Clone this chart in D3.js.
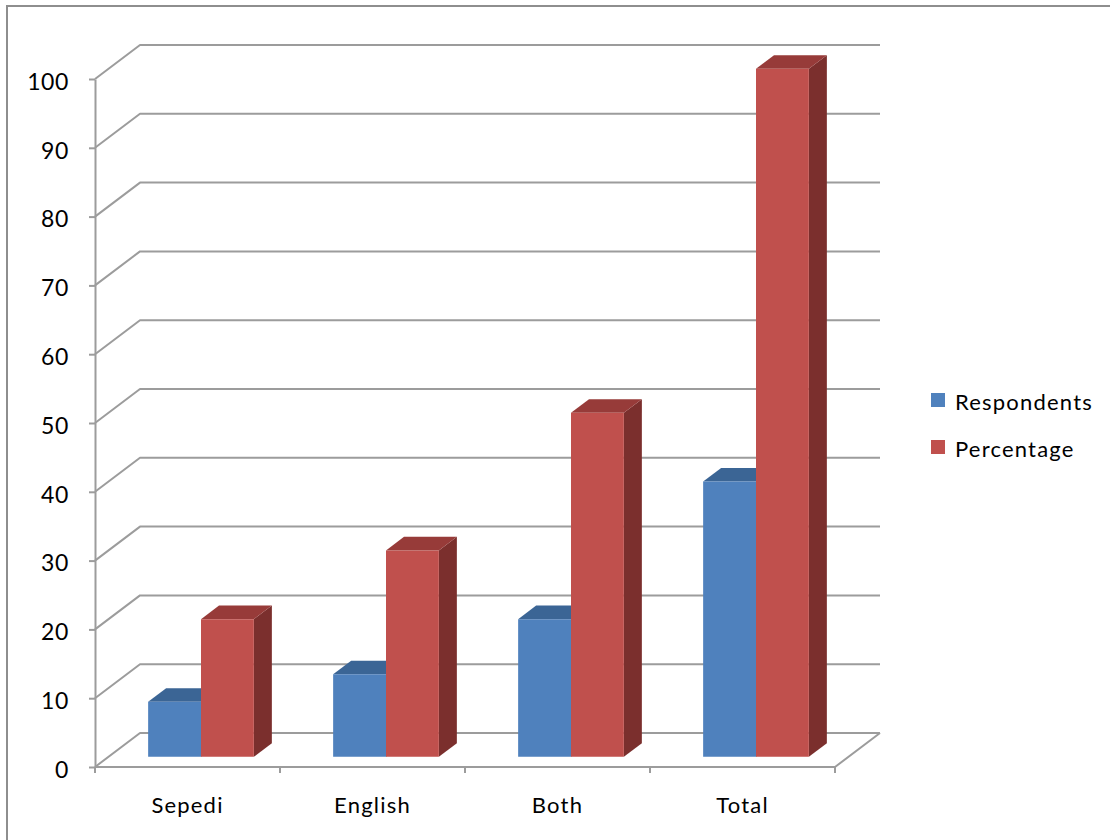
<!DOCTYPE html>
<html>
<head>
<meta charset="utf-8">
<script src="https://cdn.jsdelivr.net/npm/d3@7"></script>
<style>
  html, body { margin: 0; padding: 0; background: #fff; }
  svg { display: block; }
  text { font-family: Lato, "Open Sans", sans-serif; fill: #000; }
</style>
</head>
<body>
<svg id="chart" width="1110" height="840"></svg>
<script>
// Chart data
const categories = ["Sepedi", "English", "Both", "Total"];
const seriesNames = ["Respondents", "Percentage"];
const respondents = [8, 12, 20, 40];
const percentage = [20, 30, 50, 100];
const yTicks = [0, 10, 20, 30, 40, 50, 60, 70, 80, 90, 100];

const seriesValues = [respondents, percentage];
const palette = {
  Respondents: { front: "#4F81BD", top: "#3B6595", side: "#385D8A" },
  Percentage:  { front: "#C0504D", top: "#973B39", side: "#7B2F2D" }
};

const svg = d3.select("#chart");

// Chart frame
svg.append("rect")
  .attr("x", 7).attr("y", 6)
  .attr("width", 1300).attr("height", 1000)
  .attr("fill", "none").attr("stroke", "#8e8e8e").attr("stroke-width", 2);

// Front plane scales
const x = d3.scaleBand().domain(categories).range([95, 835]).padding(0);
const y = d3.scaleLinear().domain([0, 100]).range([767, 79]);

// Oblique depth offset of the full plot box
const depthX = 45, depthY = -34;
const proj = (px, py, t) => [px + t * depthX, py + t * depthY];

// Bars sit between these fractions of the box depth
const barD0 = 0.3, barD1 = 0.7;

// Bars occupy a group separated by a 150% gap
const gapRatio = 1.5;
const groupW = x.bandwidth() * 2 / (2 + gapRatio);
const sub = d3.scaleBand().domain(seriesNames).range([0, groupW]);

const gridColor = "#9c9c9c";
const grid = svg.append("g")
  .attr("fill", "none").attr("stroke", gridColor).attr("stroke-width", 2)
  .attr("stroke-linejoin", "round");

// Side wall and back wall gridlines
yTicks.forEach(v => {
  const p0 = [95, y(v)];
  const p1 = proj(95, y(v), 1);
  const p2 = proj(835, y(v), 1);
  grid.append("path").attr("d", d3.line()([p0, p1, p2]));
});

// Floor front and right edges
grid.append("path").attr("d", d3.line()([[95, y(0)], [835, y(0)], proj(835, y(0), 1)]));

// Value axis
const yAxis = svg.append("g")
  .attr("transform", "translate(95,0)")
  .call(d3.axisLeft(y).tickValues(yTicks).tickSize(6).tickPadding(20).tickSizeOuter(0));
yAxis.select(".domain").attr("stroke", gridColor).attr("stroke-width", 2);
yAxis.selectAll(".tick line").attr("stroke", gridColor).attr("stroke-width", 2);
yAxis.selectAll(".tick text")
  .attr("font-family", "Lato, 'Open Sans', sans-serif")
  .attr("font-size", 23).attr("letter-spacing", 0.6).attr("fill", "#000")
  .attr("dy", "0.45em");

// Category axis ticks at band boundaries
const boundaries = categories.map(c => x(c)).concat([x.range()[1]]);
svg.append("g").selectAll("line").data(boundaries).join("line")
  .attr("x1", d => d).attr("x2", d => d)
  .attr("y1", y(0)).attr("y2", y(0) + 6)
  .attr("stroke", gridColor).attr("stroke-width", 2);

const xAxis = svg.append("g")
  .attr("transform", `translate(0,${y(0)})`)
  .call(d3.axisBottom(x).tickSize(0).tickPadding(30));
xAxis.select(".domain").remove();
xAxis.selectAll(".tick text")
  .attr("font-family", "Lato, 'Open Sans', sans-serif")
  .attr("font-size", 22).attr("letter-spacing", 1.2).attr("fill", "#000");

// 3D columns: front face, top face, right side face
const bars = svg.append("g");
categories.forEach((cat, ci) => {
  const groupX = x(cat) + (x.bandwidth() - groupW) / 2;
  seriesNames.forEach((name, si) => {
    const v = seriesValues[si][ci];
    const col = palette[name];
    const xl = groupX + sub(name);
    const xr = xl + sub.bandwidth();
    const yb = y(0), yt = y(v);
    const fl_b = proj(xl, yb, barD0), fr_b = proj(xr, yb, barD0);
    const fl_t = proj(xl, yt, barD0), fr_t = proj(xr, yt, barD0);
    const bl_t = proj(xl, yt, barD1), br_t = proj(xr, yt, barD1);
    const br_b = proj(xr, yb, barD1);
    const g = bars.append("g").attr("class", "bar");
    g.append("path").attr("d", d3.line()([fr_b, fr_t, br_t, br_b]) + "Z")
      .attr("fill", col.side);
    g.append("path").attr("d", d3.line()([fl_t, bl_t, br_t, fr_t]) + "Z")
      .attr("fill", col.top);
    g.append("path").attr("d", d3.line()([fl_b, fl_t, fr_t, fr_b]) + "Z")
      .attr("fill", col.front);
  });
});

// Legend
const legend = svg.append("g").attr("transform", "translate(931,393)");
seriesNames.forEach((name, i) => {
  const row = legend.append("g").attr("transform", `translate(0,${i * 47})`);
  row.append("rect").attr("width", 14).attr("height", 14).attr("fill", palette[name].front);
  row.append("text").attr("x", 24).attr("y", 17)
    .attr("font-size", 22).attr("letter-spacing", 1.2).text(name);
});
</script>
</body>
</html>
